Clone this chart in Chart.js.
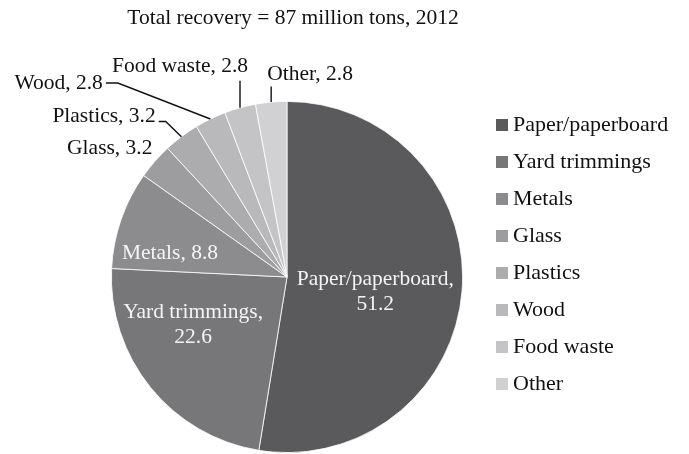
<!DOCTYPE html>
<html>
<head>
<meta charset="utf-8">
<script src="https://cdn.jsdelivr.net/npm/chart.js@4.4.0/dist/chart.umd.min.js"></script>
<style>
  html, body { margin: 0; padding: 0; background: #fff; }
  #wrap { width: 689px; height: 454px; }
</style>
</head>
<body>
<div id="wrap"><canvas id="chart"></canvas></div>
<script>
const materials = ['Paper/paperboard', 'Yard trimmings', 'Metals', 'Glass', 'Plastics', 'Wood', 'Food waste', 'Other']
const recovered = [51.2, 22.6, 8.8, 3.2, 3.2, 2.8, 2.8, 2.8]
const shades = ['#5a5a5c', '#77777a', '#8c8c8e', '#9d9d9f', '#acacae', '#b9b9bb', '#c4c4c6', '#d1d1d3']
const heading = 'Total recovery = 87 million tons, 2012'

const serif = '"Liberation Serif", "DejaVu Serif", serif'

// where each slice label goes: inside ones sit at (turn, depth) from the slice middle,
// outside ones hang off a leader that starts at the slice's rim
const placement = [
  { inside: true, turn: 5, depth: 0.51, split: true },
  { inside: true, turn: 12, depth: 0.6, split: true },
  { inside: true, turn: -7.5, depth: 0.68 },
  { kind: 'none', dx: -2.4, dy: -13.2, align: 'right' },
  { kind: 'elbow', bend: [-15.7, -15.2], tail: 7, gap: 3, lift: -5 },
  { kind: 'elbow', bend: [-92.5, -36], tail: 12, gap: 3, lift: 0 },
  { kind: 'up', rise: 27, dx: -60, dy: -41.8, align: 'center' },
  { kind: 'up', rise: 15.7, dx: -4, dy: -27.7, align: 'left' }
]

function noteText(i) {
  return materials[i] + ', ' + recovered[i]
}

const sliceNotes = {
  id: 'sliceNotes',
  afterDatasetsDraw(chart) {
    const ctx = chart.ctx
    const arcs = chart.getDatasetMeta(0).data
    ctx.save()
    ctx.font = '21.5px ' + serif
    ctx.textBaseline = 'middle'
    arcs.forEach((arc, i) => {
      const p = placement[i]
      const mid = (arc.startAngle + arc.endAngle) / 2
      const R = arc.outerRadius
      if (p.inside) {
        const a = mid + p.turn * Math.PI / 180
        const cx = arc.x + Math.cos(a) * R * p.depth
        const cy = arc.y + Math.sin(a) * R * p.depth
        const lines = p.split ? [materials[i] + ',', String(recovered[i])] : [noteText(i)]
        ctx.fillStyle = '#f4f4f4'
        ctx.textAlign = 'center'
        lines.forEach((t, k) => {
          ctx.fillText(t, cx, cy + (k - (lines.length - 1) / 2) * 25)
        })
        return
      }
      const ex = arc.x + Math.cos(mid) * R
      const ey = arc.y + Math.sin(mid) * R
      ctx.fillStyle = '#111'
      ctx.strokeStyle = '#111'
      ctx.lineWidth = 1.4
      if (p.kind === 'none') {
        ctx.textAlign = p.align
        ctx.fillText(noteText(i), ex + p.dx, ey + p.dy)
      } else if (p.kind === 'elbow') {
        const bx = ex + p.bend[0]
        const by = ey + p.bend[1]
        ctx.beginPath()
        ctx.moveTo(ex, ey)
        ctx.lineTo(bx, by)
        ctx.lineTo(bx - p.tail, by)
        ctx.stroke()
        ctx.textAlign = 'right'
        ctx.fillText(noteText(i), bx - p.tail - p.gap, by + p.lift)
      } else if (p.kind === 'up') {
        ctx.beginPath()
        ctx.moveTo(ex, ey)
        ctx.lineTo(ex, ey - p.rise)
        ctx.stroke()
        ctx.textAlign = p.align
        ctx.fillText(noteText(i), ex + p.dx, ey + p.dy)
      }
    })
    ctx.restore()
  }
}

// title and the square-swatch key on the right
const frame = {
  id: 'frame',
  afterDraw(chart) {
    const ctx = chart.ctx
    ctx.save()
    ctx.textBaseline = 'middle'
    ctx.fillStyle = '#111'
    ctx.font = '21.5px ' + serif
    ctx.textAlign = 'center'
    ctx.fillText(heading, 293, 18)

    ctx.font = '22px ' + serif
    ctx.textAlign = 'left'
    materials.forEach((name, i) => {
      const y = 125 + i * 37
      ctx.fillStyle = shades[i]
      ctx.fillRect(496, y - 6, 12, 12)
      ctx.fillStyle = '#111'
      ctx.fillText(name, 513, y)
    })
    ctx.restore()
  }
}

const ctx = document.getElementById('chart')
new Chart(ctx, {
  type: 'pie',
  data: {
    labels: materials,
    datasets: [{
      data: recovered,
      backgroundColor: shades,
      borderColor: '#ffffff',
      borderWidth: 0.8
    }]
  },
  options: {
    responsive: true,
    maintainAspectRatio: false,
    animation: false,
    layout: { padding: { top: 101, bottom: 1, left: 111, right: 226 } },
    plugins: {
      legend: { display: false },
      title: { display: false },
      tooltip: { enabled: false }
    }
  },
  plugins: [sliceNotes, frame]
})
</script>
</body>
</html>
